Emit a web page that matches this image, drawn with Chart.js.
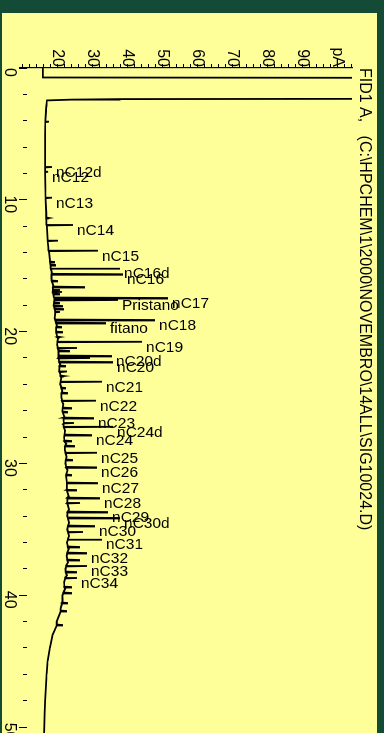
<!DOCTYPE html>
<html>
<head>
<meta charset="utf-8">
<title>FID1 A</title>
<script src="https://cdn.jsdelivr.net/npm/chart.js@4/dist/chart.umd.min.js"></script>
<style>
  html, body { margin: 0; padding: 0; }
  body { width: 384px; height: 733px; overflow: hidden; background: #134b36; position: relative; }
  #plot { position: absolute; left: 2px; top: 13px; width: 375px; height: 720px; background: #ffff99; overflow: hidden; }
  /* the chromatogram is drawn landscape and turned a quarter turn clockwise */
  #turn { position: absolute; left: 0; top: 0; width: 720px; height: 375px; transform-origin: 0 0; transform: translate(375px, 0) rotate(90deg); }
  #c { display: block; }
</style>
</head>
<body>
<div id="plot"><div id="turn"><canvas id="c" width="720" height="375"></canvas></div></div>
<script>
// ---- signal FID1 A: retention time (min) vs. detector signal (pA) ----

const signalTitle = 'FID1 A,   (C:\\HPCHEM\\1\\2000\\NOVEMBRO\\14ALL\\SIG10024.D)';
const signalUnit = 'pA';

// baseline of the trace, including the off-scale solvent front
const baseTime = [0, 0.72, 0.78, 2.30, 2.36, 2.40, 2.46, 3, 4, 5, 6, 7, 8, 9, 10, 11, 12, 13, 14, 15,
  15.5, 16, 16.5, 17, 17.5, 18, 18.5, 19, 19.5, 20, 20.5, 21, 21.5, 22, 22.5, 23, 23.5, 24, 24.5, 25,
  25.5, 26, 26.5, 27, 27.5, 28, 28.5, 29, 29.5, 30, 30.5, 31, 31.5, 32, 32.5, 33, 33.5, 34, 34.5, 35,
  35.5, 36, 36.5, 37, 37.5, 38, 38.5, 39, 39.5, 40, 40.5, 41, 42, 43, 44, 45, 46, 47, 48, 49, 50.45];
const baseSignal = [15.86, 15.86, 250, 250, 38, 24, 17.0, 16.8, 16.55, 16.5, 16.45, 16.5, 16.5, 16.55, 16.6, 16.8, 16.95, 17.2, 17.6, 18.0,
  18.4, 18.3, 18.8, 18.6, 19.2, 18.9, 19.5, 19.2, 19.8, 19.5, 20.2, 19.9, 20.5, 20.2, 20.8, 20.5, 21.1, 20.8, 21.4, 21.1,
  21.7, 21.4, 22.0, 21.7, 22.2, 21.9, 22.5, 22.1, 22.6, 22.3, 22.9, 22.5, 23.0, 22.6, 23.2, 22.7, 23.3, 22.8, 23.3, 22.8,
  23.3, 22.7, 23.2, 22.6, 23.0, 22.3, 22.7, 21.9, 22.2, 21.4, 21.5, 20.9, 19.8, 18.6, 17.8, 17.2, 16.9, 16.7, 16.5, 16.35, 16.2];

// identified peaks
const peakNames = ['nC12d', 'nC12', 'nC13', 'nC14', 'nC15', 'nC16d', 'nC16', 'nC17', 'Pristano', 'nC18',
  'fitano', 'nC19', 'nC20d', 'nC20', 'nC21', 'nC22', 'nC23', 'nC24d', 'nC24', 'nC25',
  'nC26', 'nC27', 'nC28', 'nC29', 'nC30d', 'nC30', 'nC31', 'nC32', 'nC33', 'nC34'];
const peakTime = [7.51, 7.87, 9.84, 11.91, 13.86, 15.21, 15.65, 17.45, 17.60, 19.12,
  19.35, 20.77, 21.85, 22.31, 23.80, 25.24, 26.56, 27.22, 27.85, 29.19,
  30.30, 31.49, 32.63, 33.69, 34.14, 34.75, 35.77, 36.80, 37.78, 38.69];
const peakApex = [18.43, 17.29, 18.43, 24.43, 31.57, 37.86, 38.71, 51.57, 37.29, 47.86,
  33.86, 44.14, 35.57, 35.86, 32.71, 31.0, 30.43, 35.86, 29.86, 31.29,
  31.29, 31.57, 32.14, 34.43, 37.86, 30.71, 32.71, 28.43, 28.43, 25.57];
const peakFoot = [16.5, 16.5, 16.6, 16.9, 17.5, 18.1, 18.3, 19.0, 19.1, 19.4,
  19.6, 20.0, 20.3, 20.5, 20.9, 21.3, 21.7, 21.8, 22.0, 22.3,
  22.5, 22.7, 22.8, 22.9, 23.0, 23.0, 23.0, 22.8, 22.5, 22.2];

// unidentified peaks
const minorTime = [4.07, 11.38, 13.10, 14.72, 14.95, 16.16, 16.62, 16.84, 16.99, 17.15,
  17.83, 18.06, 18.29, 18.51, 19.65, 20.03, 20.41, 21.24, 21.47, 22.00,
  22.61, 23.04, 23.37, 24.28, 24.66, 25.80, 26.10, 26.93, 28.30, 28.68,
  29.74, 30.88, 32.02, 33.00, 35.20, 36.34, 37.33, 38.24, 39.38, 39.83,
  40.59, 41.20, 42.26];
const minorApex = [17.57, 17.57, 20.14, 19.29, 19.57, 20.14, 27.86, 20.71, 21.29, 20.71,
  20.71, 21.57, 21.86, 20.71, 21.29, 21.57, 20.71, 25.57, 23.57, 29.29,
  22.43, 22.71, 21.86, 22.43, 23.0, 24.14, 23.0, 24.71, 24.14, 25.0,
  24.43, 24.14, 25.57, 26.43, 27.29, 26.43, 26.43, 25.57, 24.14, 24.14,
  23.0, 22.71, 21.57];
const minorFoot = [16.55, 16.8, 17.2, 17.9, 18.0, 18.4, 18.7, 18.7, 18.7, 18.8,
  19.0, 19.0, 19.2, 19.4, 19.7, 19.6, 19.9, 20.1, 20.3, 20.3,
  20.6, 20.6, 20.9, 21.1, 21.2, 21.5, 21.5, 21.8, 22.0, 22.2,
  22.4, 22.5, 22.7, 22.8, 23.0, 23.0, 22.8, 22.4, 22.0, 21.7,
  21.3, 20.9, 19.8];

// axis ranges and tick steps
const timeRange = [0, 50.45];
const timeMajorStep = 10;
const timeMinorStep = 2;
const signalRange = [9.1, 104.1];
const signalStep = 2;
const signalLabelled = [20, 30, 40, 50, 60, 70, 80, 90];
const signalUnitTick = 100;

// ---- build the trace (peaks are drawn as narrow spikes) ----
const spikeHalfWidth = 0.035;
const trace = [];
baseTime.forEach((t, i) => trace.push({ x: t, y: baseSignal[i] }));
function addSpikes(times, apex, foot) {
  times.forEach((t, i) => {
    trace.push({ x: t - spikeHalfWidth, y: foot[i] });
    trace.push({ x: t, y: apex[i] });
    trace.push({ x: t + spikeHalfWidth, y: foot[i] });
  });
}
addSpikes(peakTime, peakApex, peakFoot);
addSpikes(minorTime, minorApex, minorFoot);
trace.sort((a, b) => a.x - b.x);

const FONT = '"Liberation Sans", Arial, Helvetica, sans-serif';
const INK = '#000000';

// peak names written beside each apex, reading along the signal axis
const peakLabels = {
  id: 'peakLabels',
  afterDatasetsDraw(chart) {
    const { ctx, scales } = chart;
    ctx.save();
    ctx.font = '15.5px ' + FONT;
    ctx.fillStyle = INK;
    ctx.textAlign = 'left';
    ctx.textBaseline = 'alphabetic';
    peakNames.forEach((name, i) => {
      const px = scales.x.getPixelForValue(peakTime[i]);
      const py = scales.y.getPixelForValue(peakApex[i]);
      ctx.save();
      ctx.translate(px + 10, py - 4);
      ctx.rotate(-Math.PI / 2);
      ctx.fillText(name, 0, 0);
      ctx.restore();
    });
    ctx.restore();
  }
};

const axisLevel = 11.29; // signal value where the time ticks hang

new Chart(document.getElementById('c'), {
  type: 'line',
  data: {
    datasets: [{
      data: trace,
      borderColor: INK,
      borderWidth: 1.8,
      pointRadius: 0,
      tension: 0,
      fill: false
    }]
  },
  options: {
    responsive: false,
    maintainAspectRatio: false,
    devicePixelRatio: 1,
    animation: false,
    layout: { padding: { left: 0, right: 0, top: 0, bottom: 17.3 } },
    plugins: {
      legend: { display: false },
      tooltip: { enabled: false },
      title: {
        display: true,
        text: signalTitle,
        align: 'start',
        fullSize: false,
        color: INK,
        font: { family: FONT, size: 16, weight: 'normal', lineHeight: 1.2 },
        padding: { top: 3.0, bottom: 2.8 }
      }
    },
    scales: {
      x: {
        type: 'linear',
        min: timeRange[0],
        max: timeRange[1],
        position: { y: axisLevel },
        border: { display: false },
        grid: { drawOnChartArea: false, drawTicks: true, tickLength: 8, tickColor: INK, tickWidth: 1 },
        ticks: {
          stepSize: timeMajorStep,
          autoSkip: false,
          includeBounds: false,
          maxRotation: 0,
          minRotation: 0,
          padding: 0,
          labelOffset: 4.5,
          color: INK,
          font: { family: FONT, size: 16 },
          callback: (v) => String(v)
        },
        afterFit(s) { s.paddingLeft = 0; s.paddingRight = 0; }
      },
      xMinor: {
        type: 'linear',
        min: timeRange[0],
        max: timeRange[1],
        position: { y: axisLevel },
        border: { display: false },
        grid: { drawOnChartArea: false, drawTicks: true, tickLength: 4, tickColor: INK, tickWidth: 1 },
        ticks: { display: false, stepSize: timeMinorStep, autoSkip: false, includeBounds: false },
        afterFit(s) { s.paddingLeft = 0; s.paddingRight = 0; }
      },
      y: {
        type: 'linear',
        position: 'left',
        min: signalRange[0],
        max: signalRange[1],
        border: { display: true, color: INK, width: 1.2 },
        grid: { drawOnChartArea: false, drawTicks: true, tickLength: 4, tickColor: INK, tickWidth: 1 },
        ticks: {
          stepSize: signalStep,
          autoSkip: false,
          includeBounds: false,
          padding: -3,
          color: INK,
          font: { family: FONT, size: 16 },
          callback: (v) => v === signalUnitTick ? signalUnit : (signalLabelled.includes(v) ? String(v) : '')
        },
        afterFit(s) { s.width = 55; s.paddingTop = 0; s.paddingBottom = 0; }
      }
    }
  },
  plugins: [peakLabels]
});
</script>
</body>
</html>
